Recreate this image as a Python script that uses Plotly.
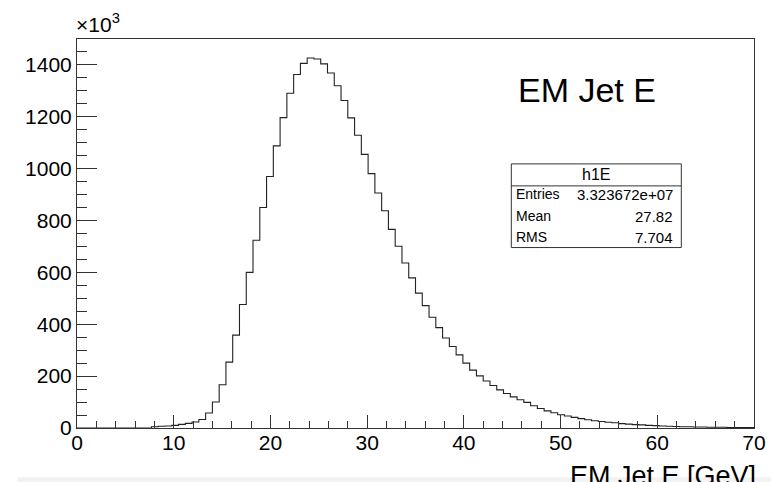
import numpy as np
import plotly.graph_objects as go

# ---- data (counts in units of 10^3) ----
x_low, x_high, n_bins = 0.0, 70.0, 100
counts = [
    0, 0, 0, 0, 0, 0, 0, 0, 0, 0,
    0, 5, 7, 8, 10, 14, 18, 23, 33, 58,
    100, 167, 254, 358, 476, 600, 724, 850, 970, 1088,
    1197, 1291, 1363, 1406, 1427, 1423, 1404, 1369, 1320, 1263,
    1196, 1129, 1055, 981, 906, 838, 766, 701, 636, 579,
    520, 472, 427, 387, 347, 314, 282, 250, 223, 201,
    181, 164, 147, 133, 120, 109, 99, 86, 75, 66,
    59, 51, 46, 41, 36, 32, 28, 25, 22, 20,
    17, 15, 13, 12, 10, 9, 8, 7, 6, 5,
    5, 4, 4, 3, 3, 3, 2, 2, 2, 2,
]
x_ticks = [0, 10, 20, 30, 40, 50, 60, 70]
y_ticks = [0, 200, 400, 600, 800, 1000, 1200, 1400]
stats_name = "h1E"
stats_rows = [("Entries", "3.323672e+07"), ("Mean", "27.82"), ("RMS", "7.704")]
title_text = "EM Jet E"
xaxis_title = "EM Jet E [GeV]"

# ---- figure geometry ----
W, H = 771, 482
L, R, T, B = 76.7, 753.7, 39.0, 428.3
FONT = "Liberation Sans, Arial, Helvetica, sans-serif"
LINE = "#333333"

def px(xp):
    return (xp - L) / (R - L)

def py(yp):
    return (B - yp) / (B - T)

edges = np.linspace(x_low, x_high, n_bins + 1)
xs = list(edges)
ys = list(counts) + [counts[-1]]

fig = go.Figure()
fig.add_trace(go.Scatter(
    x=xs, y=ys, mode="lines", line=dict(shape="hv", color="#222222", width=1.1),
    hoverinfo="skip", showlegend=False,
))

axis_common = dict(
    showgrid=False, zeroline=False, showline=True, linecolor=LINE, linewidth=1,
    mirror=True, ticks="inside", tickcolor=LINE, automargin=False,
    tickfont=dict(family=FONT, size=21, color="#000000"),
)
fig.update_xaxes(range=[x_low, x_high], tickvals=x_ticks, ticklen=13,
                 ticklabelstandoff=-4,
                 minor=dict(dtick=2, ticks="inside", ticklen=7, tickcolor=LINE),
                 **axis_common)
fig.update_yaxes(range=[0, 1500], tickvals=y_ticks, ticklen=20,
                 minor=dict(dtick=50, ticks="inside", ticklen=10, tickcolor=LINE),
                 **axis_common)

shapes = []
annotations = []

# stats box
bx0, bx1, by0, by1, bdiv = 511, 681, 164, 247.7, 186
shapes.append(dict(type="rect", xref="paper", yref="paper",
                   x0=px(bx0), x1=px(bx1), y0=py(by1), y1=py(by0),
                   line=dict(color=LINE, width=1), fillcolor="white", layer="above"))
shapes.append(dict(type="line", xref="paper", yref="paper",
                   x0=px(bx0), x1=px(bx1), y0=py(bdiv), y1=py(bdiv),
                   line=dict(color=LINE, width=1), layer="above"))
annotations.append(dict(text=stats_name, xref="paper", yref="paper",
                        x=px((bx0 + bx1) / 2), y=py((by0 + bdiv) / 2),
                        xanchor="center", yanchor="middle", showarrow=False,
                        font=dict(family=FONT, size=16, color="#000")))
row_y = [194.5, 216.5, 237.5]
for (k, v), yy in zip(stats_rows, row_y):
    annotations.append(dict(text=k, xref="paper", yref="paper", x=px(bx0 + 3), y=py(yy),
                            xanchor="left", yanchor="middle", showarrow=False,
                            font=dict(family=FONT, size=14, color="#000")))
    annotations.append(dict(text=v, xref="paper", yref="paper", x=px(bx1 - 6), y=py(yy),
                            xanchor="right", yanchor="middle", showarrow=False,
                            font=dict(family=FONT, size=15, color="#000")))

# title
annotations.append(dict(text=title_text, xref="paper", yref="paper", x=px(587), y=py(90),
                        xanchor="center", yanchor="middle", showarrow=False,
                        font=dict(family=FONT, size=34, color="#000")))
# exponent
annotations.append(dict(text="×10<sup>3</sup>", xref="paper", yref="paper", x=px(74), y=py(23),
                        xanchor="left", yanchor="middle", showarrow=False,
                        font=dict(family=FONT, size=21, color="#000")))
# x-axis title
annotations.append(dict(text=xaxis_title, xref="paper", yref="paper", x=px(758), y=py(476),
                        xanchor="right", yanchor="middle", showarrow=False,
                        font=dict(family=FONT, size=27, color="#000")))

# light band (screen edge)
shapes.append(dict(type="rect", xref="paper", yref="paper", x0=px(17), x1=px(771),
                   y0=py(482), y1=py(477.5), line=dict(width=0), fillcolor="#f2f2f2",
                   layer="below"))

fig.update_layout(
    width=W, height=H, autosize=False,
    margin=dict(l=L, r=W - R, t=T, b=H - B, pad=0),
    paper_bgcolor="white", plot_bgcolor="white",
    shapes=shapes, annotations=annotations, showlegend=False,
)
fig.write_html("out.html")
